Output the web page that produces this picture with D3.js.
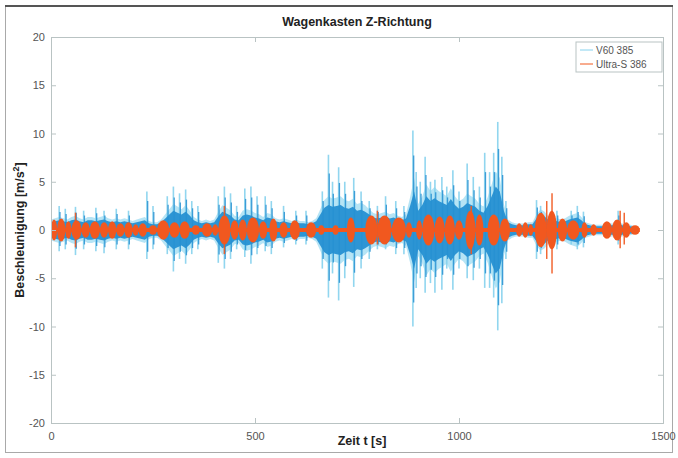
<!DOCTYPE html>
<html><head><meta charset="utf-8">
<script src="https://cdn.jsdelivr.net/npm/d3@7"></script>
<style>
html,body{margin:0;padding:0;background:#fff;}
svg{display:block;font-family:"Liberation Sans",Arial,sans-serif;}
</style></head>
<body><svg id="c" width="678" height="458"></svg>
<script>
// ---- data ----
const xTicks = [0, 500, 1000, 1500];
const yTicks = [-20, -15, -10, -5, 0, 5, 10, 15, 20];
const seriesNames = ["V60 385", "Ultra-S 386"];

// blue (V60 385) dense core envelope, every 10 s
const blueT = [0,10,20,30,40,50,60,70,80,90,100,110,120,130,140,150,160,170,180,190,200,210,220,230,240,250,260,270,280,290,300,310,320,330,340,350,360,370,380,390,400,410,420,430,440,450,460,470,480,490,500,510,520,530,540,550,560,570,580,590,600,610,620,630,640,650,660,670,680,690,700,710,720,730,740,750,760,770,780,790,800,810,820,830,840,850,860,870,880,890,900,910,920,930,940,950,960,970,980,990,1000,1010,1020,1030,1040,1050,1060,1070,1080,1090,1100,1110,1120,1130,1140,1150,1160,1170,1180,1190,1200,1210,1220,1230,1240,1250,1260,1270,1280,1290,1300,1310,1320,1330,1340,1350,1360,1370,1380,1390,1400,1410,1420,1430,1440];
const blueCore = [0.8,0.9,1.0,0.9,0.8,1.0,1.1,0.9,0.8,1.0,1.0,0.9,1.0,1.1,0.9,0.8,0.9,0.8,0.9,0.8,0.7,0.8,0.9,1.0,0.7,0.6,0.6,0.8,1.2,1.6,2.0,1.8,1.6,1.9,1.5,1.0,0.8,0.7,0.8,0.7,0.8,1.4,1.9,1.7,1.5,1.1,1.0,1.5,1.6,1.5,1.3,1.2,1.0,1.3,1.2,0.9,0.8,0.9,0.8,0.7,0.8,0.7,0.7,0.6,0.7,0.9,1.6,2.3,2.6,2.4,2.5,2.6,2.3,2.2,2.4,2.0,2.1,1.9,1.6,1.3,1.2,1.3,1.4,1.2,1.3,1.1,1.0,1.2,2.5,4.0,2.0,2.6,3.5,3.0,3.3,3.0,2.8,2.6,3.2,2.6,2.2,2.4,2.8,2.6,2.4,2.0,1.8,2.5,3.5,4.5,4.0,2.0,0.8,0.6,0.5,0.5,0.5,0.6,0.6,1.2,1.6,1.4,1.0,1.0,0.9,0.8,0.9,1.1,1.2,1.3,1.0,0.6,0.5,0.4,0.4,0.4,0.4,0.5,0.5,0.6,0.5,0.4,0.4,0.3,0.2];

// blue spikes: time, max, min
const blueSpikeT  = [20,35,60,80,110,130,160,190,235,250,285,300,315,330,345,360,410,425,440,455,475,490,505,525,540,570,600,625,665,680,690,705,720,742,760,780,800,820,845,865,887,895,905,917,930,941,958,970,985,1000,1020,1035,1050,1063,1075,1085,1095,1105,1115,1190,1200,1240,1275,1290,1305,1390];
const blueSpikeHi = [2.5,2.2,2.4,2.0,2.3,2.0,2.2,2.0,4.0,2.5,3.5,4.5,3.8,4.2,3.0,2.5,3.5,4.5,3.8,2.5,4.3,4.5,3.5,3.5,3.0,2.5,2.0,2.0,4.0,7.8,5.0,6.5,5.0,5.4,4.0,3.0,2.5,3.5,3.0,2.5,10.3,6.0,5.0,7.6,5.0,5.2,5.5,4.5,6.2,4.0,6.9,5.5,4.5,8.0,6.0,8.0,11.2,7.6,3.0,3.1,2.5,2.0,2.0,2.5,1.9,2.0];
const blueSpikeLo = [-2.2,-2.0,-2.6,-2.0,-2.2,-2.4,-2.0,-2.0,-3.0,-2.0,-2.5,-4.3,-3.0,-3.5,-2.5,-2.0,-3.4,-4.0,-3.0,-2.0,-2.8,-3.5,-2.5,-2.2,-2.5,-1.8,-1.5,-1.5,-4.0,-7.0,-4.5,-7.3,-5.0,-5.9,-4.0,-3.0,-2.0,-2.0,-2.5,-2.5,-10.0,-6.0,-5.0,-6.5,-5.5,-6.5,-6.2,-4.0,-6.2,-4.0,-5.0,-5.2,-4.0,-6.0,-6.0,-7.0,-10.4,-7.6,-3.0,-3.0,-2.5,-2.0,-1.5,-2.0,-1.8,-1.5];

// orange (Ultra-S 386) bursts: start, end, amplitude
const orangeStart = [0,15,35,50,75,95,120,140,160,180,200,215,240,260,290,315,345,370,395,410,440,460,480,510,535,560,585,625,655,690,725,770,800,835,870,895,910,940,965,990,1015,1040,1070,1100,1140,1155,1170,1186,1215,1242,1265,1300,1322,1350,1375,1400,1420];
const orangeEnd   = [15,35,50,75,95,120,140,160,180,200,215,235,260,290,315,340,365,395,410,440,460,480,510,530,555,580,610,650,670,705,745,800,835,870,885,910,940,965,990,1010,1040,1060,1100,1125,1155,1170,1182,1215,1240,1265,1295,1315,1338,1375,1400,1420,1443];
const orangeAmp   = [1.1,1.2,0.9,1.0,0.8,0.9,0.8,0.9,0.7,0.8,0.6,0.7,0.5,1.0,0.8,0.9,0.5,0.7,0.6,1.5,1.0,1.1,1.3,0.9,1.2,0.8,1.0,0.8,0.5,0.5,1.3,1.5,1.5,1.3,0.8,1.0,1.6,1.4,1.5,1.0,2.0,1.6,1.6,1.2,0.7,0.8,0.6,1.8,2.0,1.2,1.0,0.8,0.6,0.9,1.1,0.8,0.5];

// orange spikes: time, max, min
const orangeSpikeT  = [60,425,800,1030,1215,1228,1395,1405];
const orangeSpikeHi = [1.8,2.5,2.0,2.5,3.0,3.8,2.0,1.8];
const orangeSpikeLo = [-1.8,-2.5,-1.5,-2.5,-3.0,-4.5,-1.9,-1.5];

// ---- drawing ----
const svg = d3.select("#c");
const m = {l: 51, r: 663, t: 37, b: 423};
const x = d3.scaleLinear().domain([0, 1500]).range([m.l, m.r]);
const y = d3.scaleLinear().domain([-20, 20]).range([m.b, m.t]);

const BLUE = "#2690d2", BLUE_L = "#86d2ee", ORANGE = "#f1581f";
const AX = "#b9c3c3", TXT = "#555";
const fmt = d => String(d);

// outer scan frame
svg.append("rect").attr("x", 5.5).attr("y", 6.5).attr("width", 667).attr("height", 446)
  .attr("fill", "none").attr("stroke", "#a9a9a9").attr("stroke-width", 1);
svg.append("line").attr("x1", 5).attr("x2", 673).attr("y1", 6).attr("y2", 6)
  .attr("stroke", "#555").attr("stroke-width", 2);

const plot = svg.append("g");

// faint halo around blue core
const halo = d3.area().curve(d3.curveLinear)
  .x((d, i) => x(blueT[i])).y0((d, i) => y(-blueCore[i] * 1.35)).y1((d, i) => y(blueCore[i] * 1.35));
plot.append("path").datum(blueCore).attr("d", halo).attr("fill", BLUE_L).attr("opacity", 0.6);

// blue spikes (light)
plot.selectAll("line.bs").data(blueSpikeT).join("line").attr("class", "bs")
  .attr("x1", d => x(d)).attr("x2", d => x(d))
  .attr("y1", (d, i) => y(blueSpikeHi[i])).attr("y2", (d, i) => y(blueSpikeLo[i]))
  .attr("stroke", BLUE_L).attr("stroke-width", 1.6).attr("opacity", 0.9);
// darker inner part of each spike
plot.selectAll("line.bs2").data(blueSpikeT).join("line").attr("class", "bs2")
  .attr("x1", d => x(d) + 0.8).attr("x2", d => x(d) + 0.8)
  .attr("y1", (d, i) => y(blueSpikeHi[i] * 0.75)).attr("y2", (d, i) => y(blueSpikeLo[i] * 0.75))
  .attr("stroke", BLUE).attr("stroke-width", 1.3).attr("opacity", 0.85);

// blue core
const blueArea = d3.area().curve(d3.curveLinear)
  .x((d, i) => x(blueT[i])).y0((d, i) => y(-blueCore[i])).y1((d, i) => y(blueCore[i]));
plot.append("path").datum(blueCore).attr("d", blueArea).attr("fill", BLUE).attr("opacity", 0.95);

// orange baseline + bursts
plot.append("line").attr("x1", x(0)).attr("x2", x(1443)).attr("y1", y(0)).attr("y2", y(0))
  .attr("stroke", ORANGE).attr("stroke-width", 4);
plot.selectAll("line.os").data(orangeSpikeT).join("line").attr("class", "os")
  .attr("x1", d => x(d)).attr("x2", d => x(d))
  .attr("y1", (d, i) => y(orangeSpikeHi[i])).attr("y2", (d, i) => y(orangeSpikeLo[i]))
  .attr("stroke", ORANGE).attr("stroke-width", 1.5).attr("opacity", 0.9);
plot.selectAll("ellipse.ob").data(orangeStart).join("ellipse").attr("class", "ob")
  .attr("cx", (d, i) => (x(d) + x(orangeEnd[i])) / 2)
  .attr("cy", y(0))
  .attr("rx", (d, i) => (x(orangeEnd[i]) - x(d)) / 2)
  .attr("ry", (d, i) => y(0) - y(orangeAmp[i]))
  .attr("fill", ORANGE);

// axes
const axL = d3.axisLeft(y).tickValues(yTicks).tickSize(-5).tickPadding(6).tickFormat(fmt);
const axR = d3.axisRight(y).tickValues(yTicks).tickSize(-5).tickFormat("");
const axB = d3.axisBottom(x).tickValues(xTicks).tickSize(-5).tickPadding(9).tickFormat(fmt);
const axT = d3.axisTop(x).tickValues(xTicks).tickSize(-5).tickFormat("");
function style(g) {
  g.selectAll("path,line").attr("stroke", AX);
  g.selectAll("text").attr("fill", TXT).style("font-size", "11px").style("font-family", "Liberation Sans, Arial, sans-serif");
}
svg.append("g").attr("transform", `translate(${m.l},0)`).call(axL).call(style);
svg.append("g").attr("transform", `translate(${m.r},0)`).call(axR).call(style);
svg.append("g").attr("transform", `translate(0,${m.b})`).call(axB).call(style);
svg.append("g").attr("transform", `translate(0,${m.t})`).call(axT).call(style);

// title and labels
svg.append("text").attr("x", (m.l + m.r) / 2).attr("y", 26).attr("text-anchor", "middle")
  .attr("font-weight", "bold").attr("font-size", 12.5).attr("fill", "#222").text("Wagenkasten Z-Richtung");
svg.append("text").attr("x", (m.l + m.r) / 2 + 5).attr("y", 445).attr("text-anchor", "middle")
  .attr("font-weight", "bold").attr("font-size", 12.5).attr("fill", "#222").text("Zeit t [s]");
const yl = svg.append("text").attr("transform", `translate(24,${(m.t + m.b) / 2}) rotate(-90)`)
  .attr("text-anchor", "middle").attr("font-weight", "bold").attr("font-size", 12.5).attr("fill", "#222");
yl.append("tspan").text("Beschleunigung [m/s");
yl.append("tspan").attr("dy", -5).attr("font-size", 9).text("2");
yl.append("tspan").attr("dy", 5).text("]");

// legend
const lg = svg.append("g").attr("transform", "translate(576,42)");
lg.append("rect").attr("width", 86).attr("height", 30).attr("fill", "#fff").attr("stroke", AX);
const lc = [BLUE_L, ORANGE];
seriesNames.forEach((n, i) => {
  lg.append("line").attr("x1", 4).attr("x2", 17).attr("y1", 8 + i * 14).attr("y2", 8 + i * 14)
    .attr("stroke", lc[i]).attr("stroke-width", 1);
  lg.append("text").attr("x", 20).attr("y", 12 + i * 14).attr("font-size", 10).attr("fill", TXT).text(n);
});
</script></body></html>
